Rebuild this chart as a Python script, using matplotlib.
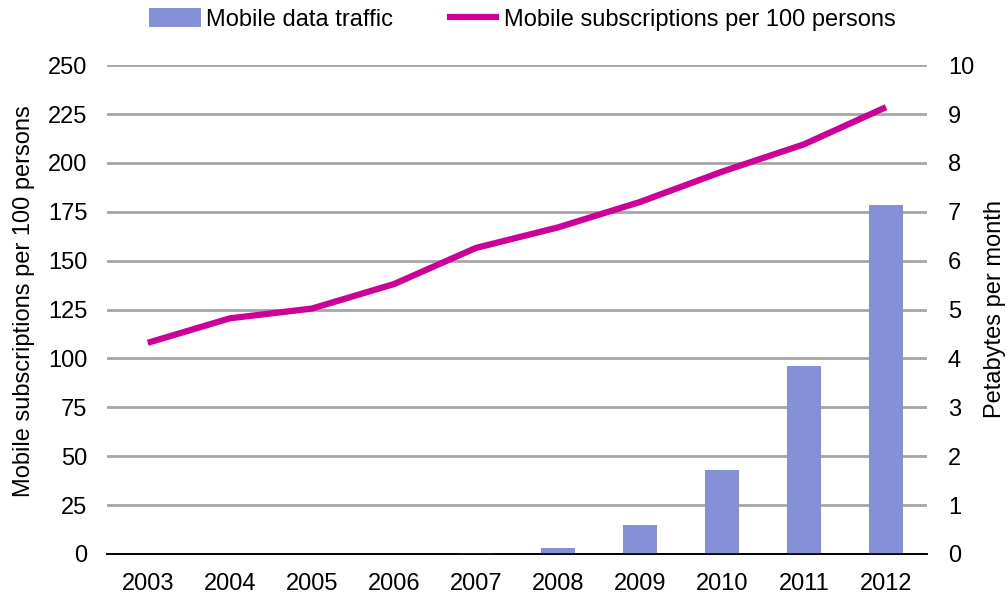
import matplotlib
matplotlib.use("Agg")
import matplotlib.pyplot as plt
import numpy as np

plt.rcParams['font.family'] = ['Liberation Sans', 'DejaVu Sans']

years = ["2003", "2004", "2005", "2006", "2007", "2008", "2009", "2010", "2011", "2012"]
subscriptions = [108, 120.5, 125.5, 138, 156.5, 167, 180, 195.5, 209.5, 228.5]
traffic_pb = [0, 0, 0, 0, 0.02, 0.12, 0.6, 1.72, 3.84, 7.14]

left_ticks = [0, 25, 50, 75, 100, 125, 150, 175, 200, 225, 250]
right_ticks = list(range(0, 11))

bar_color = "#8690d8"
line_color = "#cc0099"
grid_color = "#a6a6a6"
fs = 17

fig = plt.figure(figsize=(10.07, 6.03), dpi=100)
ax = fig.add_axes([0.106, 0.0813, 0.8146, 0.8107])
ax2 = ax.twinx()

x = np.arange(len(years))

ax.plot(x, subscriptions, color=line_color, lw=4.5, solid_capstyle='butt',
        label="Mobile subscriptions per 100 persons", zorder=3)
ax2.bar(x, traffic_pb, width=0.41, color=bar_color, label="Mobile data traffic", zorder=2)

ax.set_xlim(-0.5, len(years) - 0.5)
ax.set_ylim(0, 250)
ax2.set_ylim(0, 10)
ax.set_yticks(left_ticks)
ax2.set_yticks(right_ticks)
ax.set_xticks(x)
ax.set_xticklabels(years)

ax.yaxis.grid(True, color=grid_color, lw=2)
ax.set_axisbelow(True)

for a in (ax, ax2):
    for side in ("left", "right", "top"):
        a.spines[side].set_visible(False)
    a.spines["bottom"].set_color("black")
    a.spines["bottom"].set_linewidth(1.2)
    a.tick_params(length=0, labelsize=fs, colors="black")
ax.tick_params(axis='x', pad=14)
ax.tick_params(axis='y', pad=14)
ax2.tick_params(axis='y', pad=15)

fig.text(0.0238, 0.5008, "Mobile subscriptions per 100 persons", rotation=90,
         ha="center", va="center", fontsize=fs)
fig.text(0.988, 0.4876, "Petabytes per month", rotation=90,
         ha="center", va="center", fontsize=fs)

h1, l1 = ax2.get_legend_handles_labels()
h2, l2 = ax.get_legend_handles_labels()
fig.legend(h1 + h2, l1 + l2, loc="center", bbox_to_anchor=(0.519, 0.968), ncol=2,
           frameon=False, fontsize=fs, handlelength=2.2, handleheight=0.9,
           handletextpad=0.21, columnspacing=2.3)

fig.savefig("out.png", dpi=100)
